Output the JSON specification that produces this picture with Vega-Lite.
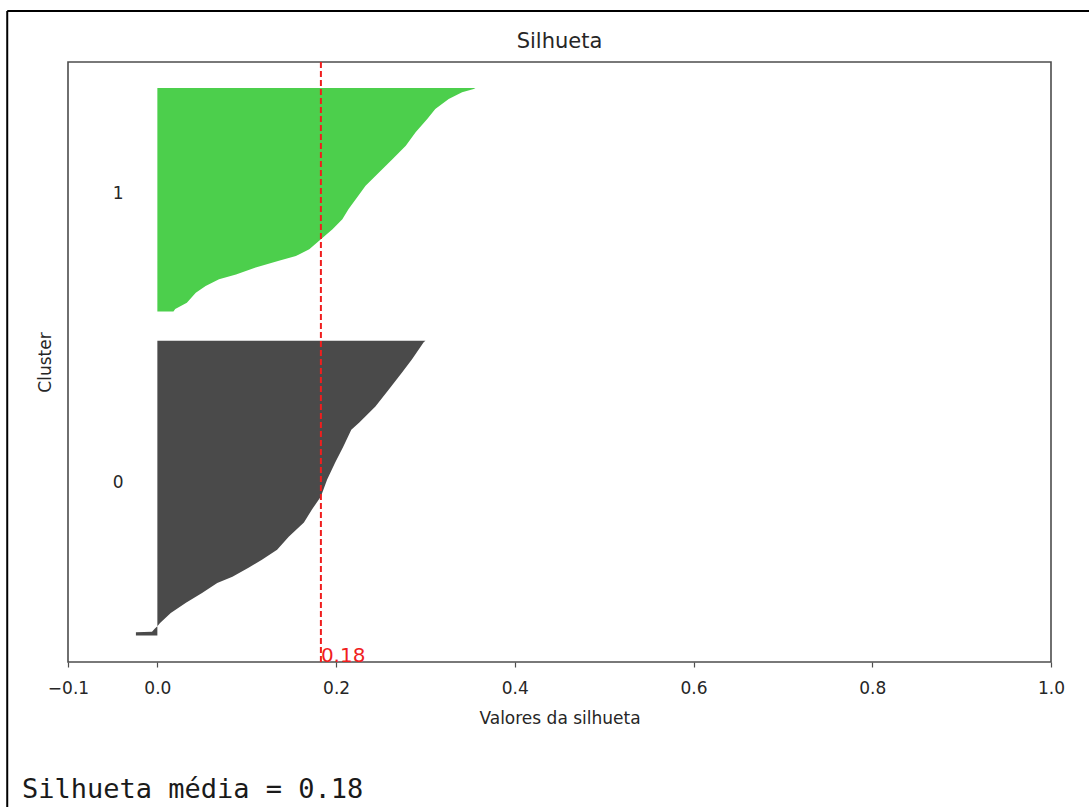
{
  "$schema": "https://vega.github.io/schema/vega-lite/v6.json",
  "width": 983,
  "height": 600,
  "autosize": {"type": "none"},
  "padding": {"left": 68, "top": 62, "right": 38, "bottom": 145},
  "background": "white",
  "title": {"text": "Silhueta", "fontSize": 21, "fontWeight": "normal", "color": "#262626", "font": "DejaVu Sans", "baseline": "alphabetic", "offset": 0, "dy": 59},
  "config": {"view": {"stroke": "#4d4d4d", "strokeWidth": 1.6}, "font": "DejaVu Sans"},
  "datasets": {
    "sil": [
      {"cluster": "0", "pos": 10, "s": -0.024},
      {"cluster": "0", "pos": 11.2, "s": -0.024},
      {"cluster": "0", "pos": 11.4, "s": -0.006},
      {"cluster": "0", "pos": 12.5, "s": -0.003},
      {"cluster": "0", "pos": 13.5, "s": 0.0},
      {"cluster": "0", "pos": 14.7, "s": 0.003},
      {"cluster": "0", "pos": 18.5, "s": 0.015},
      {"cluster": "0", "pos": 22.3, "s": 0.032},
      {"cluster": "0", "pos": 26.0, "s": 0.050},
      {"cluster": "0", "pos": 29.8, "s": 0.067},
      {"cluster": "0", "pos": 32.1, "s": 0.084},
      {"cluster": "0", "pos": 35.5, "s": 0.102},
      {"cluster": "0", "pos": 38.5, "s": 0.117},
      {"cluster": "0", "pos": 42.3, "s": 0.134},
      {"cluster": "0", "pos": 47.2, "s": 0.147},
      {"cluster": "0", "pos": 52.5, "s": 0.164},
      {"cluster": "0", "pos": 57.4, "s": 0.173},
      {"cluster": "0", "pos": 62.3, "s": 0.183},
      {"cluster": "0", "pos": 68.7, "s": 0.190},
      {"cluster": "0", "pos": 75.1, "s": 0.199},
      {"cluster": "0", "pos": 81.1, "s": 0.208},
      {"cluster": "0", "pos": 87.5, "s": 0.217},
      {"cluster": "0", "pos": 90.2, "s": 0.226},
      {"cluster": "0", "pos": 96.2, "s": 0.244},
      {"cluster": "0", "pos": 102.6, "s": 0.259},
      {"cluster": "0", "pos": 109.1, "s": 0.274},
      {"cluster": "0", "pos": 114.0, "s": 0.285},
      {"cluster": "0", "pos": 120.4, "s": 0.298},
      {"cluster": "0", "pos": 121, "s": 0.300},
      {"cluster": "1", "pos": 132, "s": 0.018},
      {"cluster": "1", "pos": 133, "s": 0.020},
      {"cluster": "1", "pos": 135.3, "s": 0.033},
      {"cluster": "1", "pos": 139.1, "s": 0.043},
      {"cluster": "1", "pos": 141.6, "s": 0.054},
      {"cluster": "1", "pos": 144.2, "s": 0.069},
      {"cluster": "1", "pos": 146.0, "s": 0.088},
      {"cluster": "1", "pos": 148.6, "s": 0.110},
      {"cluster": "1", "pos": 151.1, "s": 0.136},
      {"cluster": "1", "pos": 152.9, "s": 0.155},
      {"cluster": "1", "pos": 155.5, "s": 0.170},
      {"cluster": "1", "pos": 159.2, "s": 0.183},
      {"cluster": "1", "pos": 163.0, "s": 0.196},
      {"cluster": "1", "pos": 166.8, "s": 0.207},
      {"cluster": "1", "pos": 170.6, "s": 0.214},
      {"cluster": "1", "pos": 174.3, "s": 0.222},
      {"cluster": "1", "pos": 179.4, "s": 0.233},
      {"cluster": "1", "pos": 184.4, "s": 0.248},
      {"cluster": "1", "pos": 189.4, "s": 0.263},
      {"cluster": "1", "pos": 194.5, "s": 0.278},
      {"cluster": "1", "pos": 199.5, "s": 0.289},
      {"cluster": "1", "pos": 204.5, "s": 0.302},
      {"cluster": "1", "pos": 208.3, "s": 0.311},
      {"cluster": "1", "pos": 212.1, "s": 0.326},
      {"cluster": "1", "pos": 214.6, "s": 0.341},
      {"cluster": "1", "pos": 215.8, "s": 0.354},
      {"cluster": "1", "pos": 216.2, "s": 0.356}
    ],
    "labels": [
      {"cluster": "0", "pos": 65.5},
      {"cluster": "1", "pos": 174.5}
    ],
    "stats": [
      {"mean": 0.183, "label": "0.18", "summary": "Silhueta média = 0.18"}
    ]
  },
  "layer": [
    {
      "data": {"name": "sil"},
      "mark": {"type": "area", "orient": "horizontal"},
      "encoding": {
        "y": {
          "field": "pos", "type": "quantitative",
          "scale": {"domain": [0, 226], "nice": false, "zero": false},
          "axis": {"title": "Cluster", "labels": false, "ticks": false, "domain": false, "grid": false,
                   "titleFontSize": 17, "titleFontWeight": "normal", "titleColor": "#262626", "titlePadding": 14, "titleFont": "DejaVu Sans"}
        },
        "x": {
          "field": "s", "type": "quantitative", "stack": null,
          "scale": {"domain": [-0.1, 1.0], "nice": false, "zero": false},
          "axis": {"title": "Valores da silhueta", "values": [-0.1, 0, 0.2, 0.4, 0.6, 0.8, 1.0], "format": ".1f",
                   "grid": false, "domain": false, "tickSize": 5, "tickWidth": 1.2, "tickColor": "#4d4d4d",
                   "labelFontSize": 17, "labelColor": "#262626", "labelPadding": 13, "labelFont": "DejaVu Sans", "labelFlush": false, "labelOverlap": false,
                   "titleFontSize": 17, "titleFontWeight": "normal", "titleColor": "#262626", "titlePadding": 14, "titleFont": "DejaVu Sans"}
        },
        "x2": {"datum": 0},
        "color": {"field": "cluster", "type": "nominal", "scale": {"domain": ["0", "1"], "range": ["#4a4a4a", "#4ccf4c"]}, "legend": null}
      }
    },
    {
      "data": {"name": "labels"},
      "mark": {"type": "text", "align": "left", "baseline": "alphabetic", "fontSize": 17, "color": "#262626", "font": "DejaVu Sans"},
      "encoding": {
        "x": {"datum": -0.05, "type": "quantitative"},
        "y": {"field": "pos", "type": "quantitative"},
        "text": {"field": "cluster"}
      }
    },
    {
      "data": {"name": "stats"},
      "mark": {"type": "rule", "color": "#f01e1e", "strokeDash": [6, 3], "strokeWidth": 2},
      "encoding": {"x": {"field": "mean", "type": "quantitative"}}
    },
    {
      "data": {"name": "stats"},
      "mark": {"type": "text", "align": "left", "baseline": "alphabetic", "fontSize": 20, "color": "#f01e1e", "font": "DejaVu Sans"},
      "encoding": {
        "x": {"field": "mean", "type": "quantitative"},
        "y": {"datum": 0, "type": "quantitative"},
        "text": {"field": "label"}
      }
    },
    {
      "data": {"name": "stats"},
      "mark": {"type": "text", "align": "left", "baseline": "alphabetic", "fontSize": 27, "color": "#1a1a1a", "font": "DejaVu Sans Mono"},
      "encoding": {
        "x": {"datum": -0.1515, "type": "quantitative"},
        "y": {"datum": -51.2, "type": "quantitative"},
        "text": {"field": "summary"}
      }
    },
    {
      "data": {"values": [{}]},
      "mark": {"type": "rule", "color": "#000000", "strokeWidth": 2},
      "encoding": {
        "x": {"datum": -0.168, "type": "quantitative"},
        "y": {"datum": 245.2, "type": "quantitative"},
        "y2": {"datum": -56}
      }
    },
    {
      "data": {"values": [{}]},
      "mark": {"type": "rule", "color": "#000000", "strokeWidth": 2},
      "encoding": {
        "y": {"datum": 245.2, "type": "quantitative"},
        "x": {"datum": -0.168, "type": "quantitative"},
        "x2": {"datum": 1.05}
      }
    }
  ]
}
